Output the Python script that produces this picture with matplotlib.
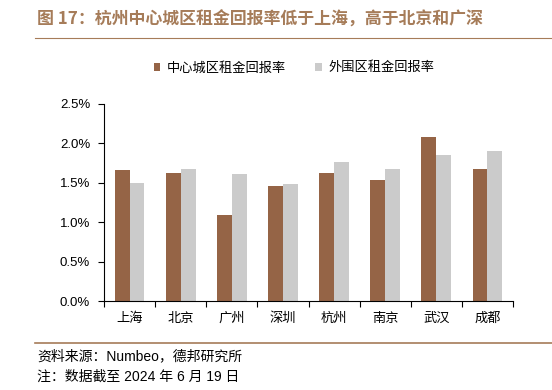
import numpy as np
import matplotlib
matplotlib.use('Agg')
import matplotlib.pyplot as plt
from matplotlib.ticker import FuncFormatter, FixedLocator
from matplotlib.lines import Line2D

plt.rcParams['font.family'] = ['Liberation Sans', 'Noto Sans CJK SC', 'DejaVu Sans']

# 数据
cities = ['上海', '北京', '广州', '深圳', '杭州', '南京', '武汉', '成都']
core_rate = [1.66, 1.62, 1.09, 1.46, 1.63, 1.53, 2.08, 1.68]
outer_rate = [1.50, 1.68, 1.61, 1.49, 1.76, 1.67, 1.85, 1.90]
series_names = ['中心城区租金回报率', '外围区租金回报率']
title = '图 17：杭州中心城区租金回报率低于上海，高于北京和广深'
source = '资料来源：Numbeo，德邦研究所'
note = '注：数据截至 2024 年 6 月 19 日'

brown = '#956446'
grey = '#CBCBCB'
accent = '#A67C59'

fig = plt.figure(figsize=(5.52, 3.9), dpi=100)
ax = fig.add_axes([104 / 552, 1 - 301 / 390, (513 - 104) / 552, (301 - 104) / 390])

x = np.arange(len(cities))
w = 0.29
ax.bar(x - w / 2, core_rate, w, color=brown, label=series_names[0])
ax.bar(x + w / 2, outer_rate, w, color=grey, label=series_names[1])

ax.set_ylim(0, 2.5)
ax.set_xlim(-0.5, len(cities) - 0.5)
ax.set_yticks(np.arange(0, 2.51, 0.5))
ax.yaxis.set_major_formatter(FuncFormatter(lambda v, p: f'{v:.1f}%'))
ax.tick_params(axis='y', labelsize=9.5, length=4, width=0.8, pad=6)

# x 轴刻度在类别边界
ax.xaxis.set_major_locator(FixedLocator(np.arange(-0.5, len(cities), 1.0)))
ax.set_xticklabels([])
ax.set_xticks(x, minor=True)
ax.set_xticklabels(cities, minor=True, family=['Noto Sans CJK SC'], fontsize=9.5)
ax.tick_params(axis='x', which='major', length=4, width=0.8)
ax.tick_params(axis='x', which='minor', length=0, pad=8)

for s in ['top', 'right']:
    ax.spines[s].set_visible(False)
for s in ['left', 'bottom']:
    ax.spines[s].set_linewidth(0.8)

ax.legend(loc='center', bbox_to_anchor=(0.465, 1.183), ncol=2, frameon=False,
          prop={'family': 'Noto Sans CJK SC', 'size': 9.5}, handlelength=0.5, handleheight=0.5,
          columnspacing=2.2, handletextpad=0.5)

# 标题和注释
fig.text(37 / 552, 1 - 20 / 390, title, fontsize=12.2, fontweight='bold', color=accent,
         va='center', family=['Noto Sans CJK SC'])
fig.add_artist(Line2D([35 / 552, 1], [1 - 38 / 390] * 2, color=accent, lw=0.8))
fig.add_artist(Line2D([35 / 552, 1], [1 - 343 / 390] * 2, color=accent, lw=1.2))
fig.text(37 / 552, 1 - 356 / 390, source, fontsize=10, va='center',
         family=['Liberation Sans', 'Noto Sans CJK SC'])
fig.text(37 / 552, 1 - 377 / 390, note, fontsize=10, va='center',
         family=['Liberation Sans', 'Noto Sans CJK SC'])

fig.savefig('out.png', dpi=100)
